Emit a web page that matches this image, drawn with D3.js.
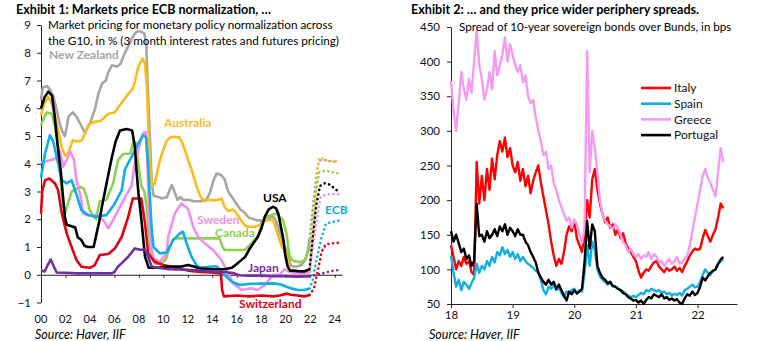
<!DOCTYPE html>
<html>
<head>
<meta charset="utf-8">
<script src="https://cdn.jsdelivr.net/npm/d3@7/dist/d3.min.js"></script>
<style>
    body { margin: 0; background: #fff; }
    svg text { font-family: Lato, "Open Sans", sans-serif; }
</style>
</head>
<body>
<svg id="chart" width="763" height="341"></svg>
<script>
// ---------- Exhibit 1: 3m rates, [year, %] ----------
var newZealand = [[2000.0,6.3],[2000.15,6.75],[2000.5,6.8],[2000.7,6.7],[2001.0,6.45],[2001.3,5.9],[2001.5,5.5],[2001.7,5.2],[2001.95,5.0],[2002.1,5.3],[2002.25,5.7],[2002.6,5.85],[2002.9,5.7],[2003.2,5.45],[2003.6,5.1],[2003.8,5.3],[2004.0,5.45],[2004.4,5.95],[2004.7,6.55],[2005.0,6.9],[2005.3,7.0],[2005.5,7.3],[2005.8,7.55],[2006.2,7.5],[2006.5,7.6],[2006.8,7.95],[2007.1,8.2],[2007.4,8.5],[2007.7,8.7],[2007.9,8.78],[2008.2,8.75],[2008.45,8.7],[2008.6,8.3],[2008.75,6.5],[2008.9,5.0],[2009.05,3.3],[2009.2,2.85],[2009.6,2.8],[2009.9,2.75],[2010.3,2.8],[2010.55,3.1],[2010.7,3.23],[2010.9,3.0],[2011.15,2.7],[2011.4,2.8],[2011.6,2.7],[2012.0,2.7],[2012.5,2.65],[2013.0,2.65],[2013.5,2.7],[2013.8,2.95],[2014.1,3.4],[2014.35,3.65],[2014.7,3.6],[2015.0,3.45],[2015.3,3.0],[2015.6,2.8],[2015.9,2.6],[2016.3,2.35],[2016.6,2.25],[2017.0,2.05],[2017.5,1.98],[2017.9,1.95],[2018.4,1.95],[2018.8,2.1],[2019.1,2.05],[2019.4,1.7],[2019.7,1.25],[2019.95,1.0],[2020.15,0.75],[2020.4,0.35],[2020.6,0.3],[2020.9,0.3],[2021.3,0.35],[2021.6,0.55],[2021.8,0.85],[2021.95,1.3]];
var australia = [[2000.0,5.75],[2000.3,6.2],[2000.6,6.4],[2000.85,6.2],[2001.15,5.7],[2001.45,5.1],[2001.7,4.6],[2001.95,4.3],[2002.2,4.35],[2002.6,4.85],[2003.0,4.8],[2003.35,4.85],[2003.6,5.1],[2003.86,5.4],[2004.3,5.5],[2004.9,5.55],[2005.5,5.8],[2006.0,5.85],[2006.6,6.2],[2007.1,6.5],[2007.5,6.7],[2007.7,7.0],[2007.95,7.5],[2008.3,7.8],[2008.5,7.6],[2008.65,6.8],[2008.8,5.0],[2008.95,3.6],[2009.1,3.2],[2009.3,3.3],[2009.5,3.7],[2009.7,4.1],[2010.0,4.5],[2010.3,4.85],[2010.6,4.95],[2010.8,4.97],[2011.3,4.95],[2011.55,4.75],[2011.8,4.45],[2012.05,4.1],[2012.3,3.8],[2012.5,3.5],[2012.75,3.15],[2013.0,2.85],[2013.3,2.65],[2013.7,2.7],[2014.1,2.68],[2014.5,2.7],[2014.75,2.75],[2015.0,2.45],[2015.3,2.3],[2015.7,2.35],[2016.0,2.2],[2016.3,2.0],[2016.6,1.8],[2016.9,1.73],[2017.5,1.73],[2017.9,1.8],[2018.2,1.95],[2018.7,1.98],[2019.0,1.95],[2019.25,1.6],[2019.5,1.25],[2019.7,1.0],[2020.0,0.8],[2020.2,0.45],[2020.35,0.15],[2020.6,0.1],[2021.0,0.08],[2021.5,0.05],[2021.95,0.1]];
var canada = [[2000.0,5.4],[2000.45,5.85],[2000.9,5.8],[2001.14,5.33],[2001.4,4.6],[2001.55,3.8],[2001.69,2.95],[2001.96,2.2],[2002.23,2.6],[2002.5,3.0],[2003.18,3.17],[2003.5,3.1],[2003.73,2.8],[2004.0,2.3],[2004.5,2.0],[2004.8,2.65],[2005.35,2.7],[2005.9,3.3],[2006.3,4.13],[2006.7,4.35],[2007.3,4.37],[2007.55,4.8],[2007.75,4.75],[2007.95,4.0],[2008.2,3.2],[2008.45,3.0],[2008.65,2.4],[2008.85,1.3],[2009.05,0.6],[2009.3,0.4],[2009.8,0.4],[2010.2,0.55],[2010.5,0.95],[2010.8,1.28],[2011.0,1.31],[2014.6,1.31],[2014.8,1.05],[2015.0,0.89],[2016.65,0.89],[2017.2,1.13],[2017.7,1.37],[2018.15,1.97],[2018.4,2.09],[2019.24,2.21],[2019.78,1.97],[2020.06,1.49],[2020.33,0.65],[2020.6,0.5],[2021.2,0.45],[2021.6,0.55],[2021.95,1.0]];
var sweden = [[2000.0,4.05],[2000.5,4.1],[2001.0,4.15],[2001.3,4.25],[2001.55,4.45],[2001.8,3.9],[2002.1,4.13],[2002.37,4.45],[2002.7,4.15],[2002.9,3.4],[2003.2,2.9],[2003.45,2.2],[2003.8,2.15],[2004.5,2.15],[2005.1,1.97],[2005.5,1.67],[2006.04,2.09],[2006.6,2.57],[2007.0,2.9],[2007.4,3.2],[2007.67,4.0],[2008.0,4.6],[2008.35,5.1],[2008.55,5.15],[2008.7,4.0],[2008.85,2.0],[2009.0,1.0],[2009.2,0.6],[2009.7,0.47],[2010.26,0.77],[2010.4,1.37],[2010.94,2.21],[2011.48,2.57],[2012.0,2.39],[2012.44,1.73],[2012.84,1.37],[2013.39,1.13],[2014.07,0.89],[2014.75,0.53],[2015.16,0.17],[2015.7,-0.31],[2016.4,-0.55],[2017.2,-0.49],[2017.7,-0.55],[2018.3,-0.37],[2018.6,-0.2],[2018.96,0.0],[2019.5,0.0],[2019.9,0.2],[2020.3,0.1],[2020.8,0.05],[2021.5,0.05],[2021.95,0.1]];
var ecb = [[2000.0,3.5],[2000.33,4.37],[2000.73,5.03],[2001.0,4.8],[2001.28,4.25],[2001.69,3.41],[2002.1,3.29],[2002.5,3.4],[2002.9,2.9],[2003.3,2.33],[2003.86,2.15],[2004.4,2.09],[2005.36,2.15],[2006.04,2.57],[2006.6,3.05],[2006.86,3.8],[2007.4,4.25],[2007.95,4.73],[2008.35,5.03],[2008.6,4.95],[2008.75,4.0],[2008.9,2.8],[2009.05,1.6],[2009.2,1.0],[2009.7,0.77],[2010.26,0.8],[2010.8,1.25],[2011.35,1.49],[2011.6,1.55],[2011.9,1.13],[2012.3,0.65],[2012.7,0.35],[2013.0,0.25],[2014.0,0.3],[2014.4,0.3],[2014.75,0.1],[2015.3,-0.13],[2015.6,-0.25],[2016.24,-0.37],[2017.0,-0.33],[2018.0,-0.32],[2019.0,-0.31],[2019.6,-0.35],[2020.06,-0.43],[2020.5,-0.5],[2021.0,-0.55],[2021.5,-0.55],[2021.95,-0.5]];
var switzerland = [[2000.0,2.2],[2000.1,3.0],[2000.33,3.41],[2000.7,3.47],[2001.14,3.29],[2001.4,3.05],[2001.7,2.21],[2002.1,1.49],[2002.5,1.0],[2002.9,0.53],[2003.3,0.29],[2004.0,0.25],[2004.4,0.35],[2004.8,0.71],[2005.5,0.75],[2006.04,0.95],[2006.6,1.37],[2007.13,2.09],[2007.5,2.75],[2008.2,2.75],[2008.5,1.85],[2008.76,0.77],[2009.3,0.47],[2010.0,0.35],[2011.0,0.25],[2012.0,0.15],[2013.0,0.1],[2014.0,0.08],[2014.7,0.05],[2014.8,-0.55],[2014.95,-0.78],[2016.0,-0.75],[2017.0,-0.78],[2018.0,-0.75],[2019.0,-0.78],[2019.5,-0.75],[2020.1,-0.68],[2020.4,-0.72],[2021.0,-0.75],[2021.5,-0.78],[2021.95,-0.73]];
var usa = [[2000.0,6.0],[2000.3,6.4],[2000.6,6.6],[2000.9,6.45],[2001.1,5.8],[2001.35,4.7],[2001.6,3.8],[2001.8,2.8],[2001.95,2.1],[2002.1,1.8],[2002.5,1.75],[2002.8,1.7],[2003.0,1.35],[2003.3,1.25],[2003.55,1.05],[2003.8,1.0],[2004.3,1.0],[2004.5,1.4],[2004.75,1.9],[2005.0,2.5],[2005.25,3.05],[2005.5,3.6],[2005.8,4.25],[2006.1,4.8],[2006.45,5.2],[2007.0,5.25],[2007.45,5.2],[2007.67,4.6],[2007.8,3.8],[2007.95,3.0],[2008.2,2.0],[2008.5,0.65],[2008.8,0.25],[2009.5,0.25],[2010.5,0.3],[2011.5,0.3],[2012.0,0.35],[2012.5,0.3],[2013.0,0.22],[2014.0,0.2],[2015.0,0.2],[2015.6,0.25],[2015.9,0.35],[2016.3,0.5],[2016.7,0.65],[2017.0,0.9],[2017.3,1.1],[2017.7,1.35],[2018.0,1.65],[2018.3,2.1],[2018.6,2.35],[2018.95,2.45],[2019.2,2.4],[2019.4,2.2],[2019.6,1.75],[2019.8,1.3],[2019.95,0.75],[2020.15,0.3],[2020.35,0.15],[2020.6,0.15],[2021.0,0.13],[2021.5,0.12],[2021.95,0.2]];
var japan = [[2000.0,0.15],[2000.3,0.12],[2000.55,0.35],[2000.8,0.55],[2001.05,0.3],[2001.28,0.08],[2002.0,0.07],[2003.0,0.05],[2004.0,0.05],[2005.0,0.05],[2005.8,0.05],[2006.0,0.1],[2006.3,0.3],[2006.6,0.42],[2007.13,0.65],[2007.67,0.95],[2008.1,0.9],[2008.5,0.91],[2008.8,0.6],[2009.04,0.3],[2009.5,0.25],[2010.5,0.2],[2012.0,0.18],[2013.0,0.15],[2014.0,0.12],[2015.0,0.1],[2015.8,0.05],[2016.2,-0.02],[2017.0,-0.03],[2018.0,-0.03],[2019.0,-0.05],[2020.0,-0.05],[2021.0,-0.07],[2021.95,-0.05]];

// futures pricing, drawn dotted
var newZealandFwd = [[2021.95,1.3],[2022.2,2.4],[2022.45,3.4],[2022.7,4.1],[2023.0,4.15],[2023.5,4.1],[2024.3,4.05]];
var australiaFwd = [[2021.95,0.1],[2022.2,1.4],[2022.45,2.9],[2022.7,4.2],[2022.9,4.2],[2023.5,4.1],[2024.3,4.1]];
var canadaFwd = [[2021.95,1.0],[2022.2,2.0],[2022.5,3.1],[2022.75,3.7],[2023.3,3.75],[2024.3,3.65]];
var swedenFwd = [[2021.95,0.1],[2022.2,0.9],[2022.5,1.9],[2022.85,2.8],[2023.3,2.9],[2024.3,2.9]];
var ecbFwd = [[2021.95,-0.5],[2022.2,-0.2],[2022.5,0.5],[2022.9,1.3],[2023.3,1.85],[2024.3,1.95]];
var switzerlandFwd = [[2021.95,-0.73],[2022.3,-0.5],[2022.6,0.1],[2022.95,0.85],[2023.3,1.1],[2024.3,1.15]];
var usaFwd = [[2021.95,0.2],[2022.2,1.3],[2022.5,2.5],[2022.8,3.2],[2023.2,3.3],[2023.6,3.25],[2024.3,3.0]];
var japanFwd = [[2021.95,-0.05],[2022.5,0.0],[2023.0,0.05],[2023.6,0.12],[2024.3,0.17]];

var ticksLeftY = [-1, 0, 1, 2, 3, 4, 5, 6, 7, 8, 9];
var ticksLeftX = [2000, 2002, 2004, 2006, 2008, 2010, 2012, 2014, 2016, 2018, 2020, 2022, 2024];

// ---------- Exhibit 2: spreads over Bunds, bps, twice a month from Jan 2018 ----------
var spreadStart = 2018, spreadStep = 1 / 24;
var italy = [135,118,100,112,105,118,108,112,96,92,255,195,235,200,245,215,260,230,265,285,270,290,262,275,250,240,255,228,245,220,235,210,228,240,250,225,205,185,165,140,120,105,115,108,125,150,162,155,170,145,135,125,150,200,175,230,245,215,195,180,168,175,160,165,150,158,145,152,138,130,125,118,112,98,88,95,100,98,105,110,112,104,100,96,102,98,100,104,98,102,96,105,112,120,126,130,128,130,145,157,148,140,150,158,175,195,188];
var spain = [120,95,75,85,70,82,78,72,80,88,108,95,105,100,112,105,118,110,125,120,132,122,128,118,125,115,122,112,118,112,108,105,102,98,96,85,70,64,75,72,78,70,74,66,60,68,65,70,72,66,70,68,95,135,105,140,128,100,90,85,82,78,80,76,75,72,70,68,65,62,60,62,60,63,66,64,70,68,72,70,68,70,66,68,64,66,62,65,63,66,62,70,72,75,78,74,75,82,92,100,95,92,98,100,108,112,115];
var greece = [372,330,300,340,385,360,345,375,355,400,445,395,375,345,360,385,360,415,380,395,410,435,400,425,410,395,385,395,370,380,350,340,345,320,300,285,265,270,245,250,225,215,200,190,180,170,175,160,172,165,150,138,160,415,240,300,275,240,200,180,170,165,162,158,165,160,150,140,135,125,130,122,118,122,115,120,118,125,115,122,118,110,112,105,110,115,108,112,118,108,110,115,120,135,155,175,195,215,235,245,232,225,215,205,240,275,255];
var portugal = [155,140,150,138,125,130,115,120,105,112,195,148,150,140,155,145,150,158,148,162,155,165,150,160,155,148,158,150,150,140,135,125,118,110,95,88,82,78,85,78,82,72,78,70,62,55,68,64,70,65,68,72,110,170,130,165,155,105,95,88,85,80,82,76,75,72,70,66,64,60,58,55,56,52,55,50,56,60,58,64,62,60,64,58,60,56,58,55,57,52,50,58,64,62,68,63,66,75,88,84,90,95,98,100,108,114,118];

var ticksRightY = [50, 100, 150, 200, 250, 300, 350, 400, 450];
var ticksRightX = [2018, 2019, 2020, 2021, 2022];

var svg = d3.select("#chart");

function twoDigit(yr) { return d3.format("02d")(yr % 100); }

function styleAxis(a) {
    a.select(".domain").attr("stroke", "#222");
    a.selectAll(".tick line").attr("stroke", "#222");
    a.selectAll("text").attr("font-size", 11.5).attr("fill", "#111");
}

function drawLeft() {
    var x = d3.scaleLinear().domain([2000, 2024.6]).range([41, 342]);
    var y = d3.scaleLinear().domain([-1, 9]).range([302.5, 25]);
    var g = svg.append("g");

    // axes: y on the left, x runs along the zero line
    var yAxis = g.append("g")
        .attr("transform", "translate(41,0)")
        .call(d3.axisLeft(y).tickValues(ticksLeftY).tickSize(4).tickSizeOuter(0).tickPadding(6));
    var xAxis = g.append("g")
        .attr("transform", "translate(0," + y(0) + ")")
        .call(d3.axisBottom(x).tickValues(ticksLeftX).tickSize(3).tickSizeOuter(0).tickFormat(""));
    styleAxis(yAxis);
    styleAxis(xAxis);

    // year labels sit below the plot, not on the zero line
    g.selectAll(".xlab")
        .data(ticksLeftX)
        .enter()
        .append("text")
        .attr("x", function (d) { return x(d); })
        .attr("y", 323)
        .attr("text-anchor", "middle")
        .attr("font-size", 11)
        .attr("fill", "#111")
        .text(twoDigit);

    var series = [
        { data: newZealand, fwd: newZealandFwd, color: "#a6a6a6" },
        { data: australia, fwd: australiaFwd, color: "#f7bd1c" },
        { data: canada, fwd: canadaFwd, color: "#8fd14f" },
        { data: sweden, fwd: swedenFwd, color: "#f08ef0" },
        { data: ecb, fwd: ecbFwd, color: "#10aee6" },
        { data: switzerland, fwd: switzerlandFwd, color: "#e3000f" },
        { data: usa, fwd: usaFwd, color: "#000000" },
        { data: japan, fwd: japanFwd, color: "#7030a0" }
    ];

    var line = d3.line()
        .x(function (d) { return x(d[0]); })
        .y(function (d) { return y(d[1]); });

    series.forEach(function (s) {
        g.append("path")
            .attr("d", line(s.data))
            .attr("fill", "none")
            .attr("stroke", s.color)
            .attr("stroke-width", 2.6)
            .attr("stroke-linejoin", "round");
    });
    series.forEach(function (s) {
        g.append("path")
            .attr("d", line(s.fwd))
            .attr("fill", "none")
            .attr("stroke", s.color)
            .attr("stroke-width", 2.6)
            .attr("stroke-linecap", "round")
            .attr("stroke-dasharray", "0.1 4.6");
    });

    // series names
    var labels = [
        ["New Zealand", 49, 59, "#a6a6a6"],
        ["Australia", 164, 127, "#f7bd1c"],
        ["USA", 263, 202, "#000000"],
        ["ECB", 325, 214, "#10aee6"],
        ["Sweden", 197, 224, "#f08ef0"],
        ["Canada", 215, 237, "#8fd14f"],
        ["Japan", 248, 272, "#7030a0"],
        ["Switzerland", 239, 308, "#e3000f"]
    ];
    labels.forEach(function (l) {
        g.append("text")
            .attr("x", l[1]).attr("y", l[2])
            .attr("font-size", 12).attr("font-weight", "bold")
            .attr("fill", l[3])
            .text(l[0]);
    });

    g.append("text").attr("x", 16).attr("y", 14)
        .attr("font-size", 12.6).attr("font-weight", "bold")
        .text("Exhibit 1: Markets price ECB normalization, …");
    g.append("text").attr("x", 48).attr("y", 29).attr("font-size", 11.7)
        .text("Market pricing for monetary policy normalization across");
    g.append("text").attr("x", 48).attr("y", 45).attr("font-size", 11.7)
        .text("the G10, in % (3 month interest rates and futures pricing)");
    g.append("text").attr("x", 35).attr("y", 339).attr("font-size", 12.5)
        .attr("font-style", "italic")
        .text("Source: Haver, IIF");
}

function drawRight() {
    var x = d3.scaleLinear().domain([2018, 2022.64]).range([451, 737]);
    var y = d3.scaleLinear().domain([50, 450]).range([304, 27]);
    var g = svg.append("g");

    var yAxis = g.append("g")
        .attr("transform", "translate(451,0)")
        .call(d3.axisLeft(y).tickValues(ticksRightY).tickSize(4).tickSizeOuter(0).tickPadding(7));
    var xAxis = g.append("g")
        .attr("transform", "translate(0,304)")
        .call(d3.axisBottom(x).tickValues(ticksRightX).tickSize(4).tickSizeOuter(0).tickPadding(3).tickFormat(twoDigit));
    styleAxis(yAxis);
    styleAxis(xAxis);

    var series = [
        { name: "Italy", values: italy, color: "#ff0000" },
        { name: "Spain", values: spain, color: "#10aee6" },
        { name: "Greece", values: greece, color: "#f49af2" },
        { name: "Portugal", values: portugal, color: "#000000" }
    ];

    var line = d3.line()
        .x(function (d, i) { return x(spreadStart + i * spreadStep); })
        .y(function (d) { return y(d); });

    series.forEach(function (s) {
        g.append("path")
            .attr("d", line(s.values))
            .attr("fill", "none")
            .attr("stroke", s.color)
            .attr("stroke-width", 2.4)
            .attr("stroke-linejoin", "round");
    });

    // legend
    var legend = g.selectAll(".legend")
        .data(series)
        .enter()
        .append("g")
        .attr("transform", function (d, i) { return "translate(641," + (88 + i * 15.7) + ")"; });
    legend.append("line")
        .attr("x1", 0).attr("x2", 30)
        .attr("stroke", function (d) { return d.color; })
        .attr("stroke-width", 2.6);
    legend.append("text")
        .attr("x", 33).attr("dy", "0.35em")
        .attr("font-size", 12).attr("fill", "#111")
        .text(function (d) { return d.name; });

    g.append("text").attr("x", 411).attr("y", 14)
        .attr("font-size", 12.6).attr("font-weight", "bold")
        .text("Exhibit 2: … and they price wider periphery spreads.");
    g.append("text").attr("x", 459).attr("y", 31).attr("font-size", 11.6)
        .text("Spread of 10-year sovereign bonds over Bunds, in bps");
    g.append("text").attr("x", 429).attr("y", 339).attr("font-size", 12.5)
        .attr("font-style", "italic")
        .text("Source: Haver, IIF");
}

drawLeft();
drawRight();
</script>
</body>
</html>
